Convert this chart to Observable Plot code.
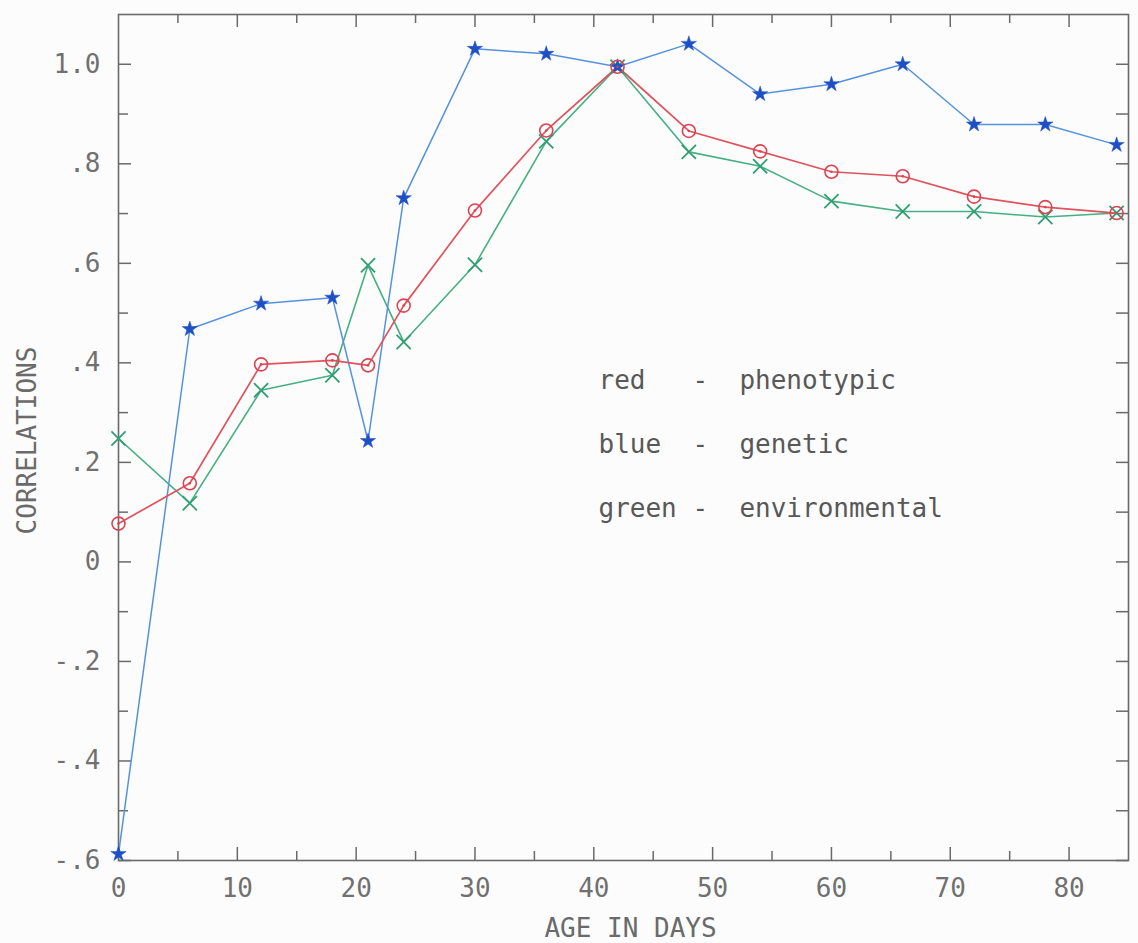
<!DOCTYPE html>
<html>
<head>
<meta charset="utf-8">
<script src="https://cdn.jsdelivr.net/npm/d3@7"></script>
<script src="https://cdn.jsdelivr.net/npm/@observablehq/plot@0.6"></script>
<style>
  html, body { margin: 0; padding: 0; background: #fcfcfc; }
  svg text { white-space: pre; }
</style>
</head>
<body>
<div id="chart"></div>
<script>
// ---- data ----
const ages = [0, 6, 12, 18, 21, 24, 30, 36, 42, 48, 54, 60, 66, 72, 78, 84];
const phenotypic    = [0.077, 0.158, 0.397, 0.405, 0.395, 0.515, 0.706, 0.867, 0.995, 0.866, 0.825, 0.784, 0.775, 0.734, 0.713, 0.701];
const genetic       = [-0.587, 0.468, 0.519, 0.531, 0.243, 0.731, 1.031, 1.021, 0.995, 1.041, 0.940, 0.960, 1.000, 0.879, 0.879, 0.838];
const environmental = [0.248, 0.118, 0.345, 0.375, 0.596, 0.442, 0.597, 0.845, 0.995, 0.824, 0.795, 0.725, 0.704, 0.704, 0.693, 0.701];

const legendLines = ["red   -  phenotypic", "blue  -  genetic", "green -  environmental"];

const xTickValues = [0, 10, 20, 30, 40, 50, 60, 70, 80];
const xMinorTicks = [5, 15, 25, 35, 45, 55, 65, 75];
const yTickValues = [-0.6, -0.4, -0.2, 0, 0.2, 0.4, 0.6, 0.8, 1.0];
const yTickLabels = ["-.6", "-.4", "-.2", "0", ".2", ".4", ".6", ".8", "1.0"];
const yMinorTicks = [-0.5, -0.3, -0.1, 0.1, 0.3, 0.5, 0.7, 0.9];

const xLabel = "AGE IN DAYS";
const yLabel = "CORRELATIONS";

// ---- styles ----
const RED = "#dc4250", RED_LINE = "#e0525c";
const BLUE = "#1e4fc4", BLUE_LINE = "#5592de";
const GREEN = "#2f9f72", GREEN_LINE = "#45b083";
const AXIS = "#6a6a6a";
const FONT = "'DejaVu Sans Mono', 'Liberation Mono', monospace";

const W = 1138, H = 943;
const mL = 118, mR = 10, mT = 14, mB = 83;
const plotW = W - mL - mR, plotH = H - mT - mB;

const rows = (vals) => ages.map((a, i) => ({age: a, value: vals[i]}));
const red = rows(phenotypic), blue = rows(genetic), green = rows(environmental);

const yLabelMap = new Map(yTickValues.map((v, i) => [v, yTickLabels[i]]));

const chart = Plot.plot({
  width: W, height: H,
  marginLeft: mL, marginRight: mR, marginTop: mT, marginBottom: mB,
  x: {domain: [0, 85]},
  y: {domain: [-0.6, 1.1]},
  style: {background: "transparent", fontFamily: FONT, color: AXIS},
  marks: [
    // ticks, all pointing inward
    Plot.tickX(xTickValues.slice(1), {x: d => d, insetTop: plotH - 13, stroke: AXIS, strokeWidth: 1.5}),
    Plot.tickX(xMinorTicks, {x: d => d, insetTop: plotH - 9, stroke: AXIS, strokeWidth: 1.5}),
    Plot.tickX(xTickValues.slice(1), {x: d => d, insetBottom: plotH - 13, stroke: AXIS, strokeWidth: 1.5}),
    Plot.tickX(xMinorTicks, {x: d => d, insetBottom: plotH - 9, stroke: AXIS, strokeWidth: 1.5}),
    Plot.tickY(yTickValues, {y: d => d, insetRight: plotW - 13, stroke: AXIS, strokeWidth: 1.5}),
    Plot.tickY(yMinorTicks, {y: d => d, insetRight: plotW - 10, stroke: AXIS, strokeWidth: 1.5}),
    Plot.tickY(yTickValues, {y: d => d, insetLeft: plotW - 12, stroke: AXIS, strokeWidth: 1.5}),
    Plot.tickY(yMinorTicks, {y: d => d, insetLeft: plotW - 12, stroke: AXIS, strokeWidth: 1.5}),
    Plot.frame({stroke: AXIS, strokeWidth: 1.6}),

    // axes labels
    Plot.axisX(xTickValues, {tickSize: 0, tickPadding: 18, fontSize: 26, tickFormat: d => String(d), label: null, fill: "#707070"}),
    Plot.axisY(yTickValues, {tickSize: 0, tickPadding: 18, fontSize: 26, tickFormat: d => yLabelMap.get(d), label: null, fill: "#707070"}),
    Plot.text([xLabel], {frameAnchor: "bottom", dx: 7, dy: 68, fontSize: 26, fill: "#6a6a6a", lineAnchor: "middle"}),
    Plot.text([yLabel], {frameAnchor: "left", textAnchor: "middle", dx: -91, dy: 3, rotate: -90, fontSize: 26, fill: "#6a6a6a", lineAnchor: "middle"}),

    // legend
    ...legendLines.map((t, i) => Plot.text([t], {
      frameAnchor: "top-left", textAnchor: "start", lineAnchor: "middle",
      dx: 480, dy: 366 + i * 64, fontSize: 26, fill: "#585858"
    })),

    // series: lines
    Plot.line(green, {x: "age", y: "value", stroke: GREEN_LINE, strokeWidth: 1.6}),
    Plot.line(blue, {x: "age", y: "value", stroke: BLUE_LINE, strokeWidth: 1.5}),
    Plot.line(red, {x: "age", y: "value", stroke: RED_LINE, strokeWidth: 1.7}),

    // markers
    Plot.dot(green, {x: "age", y: "value", symbol: "times", r: 6.5, stroke: GREEN, strokeWidth: 1.8}),
    Plot.dot(blue, {x: "age", y: "value", symbol: "star", r: 4.8, fill: BLUE, stroke: BLUE, strokeWidth: 0.5}),
    Plot.dot(red, {x: "age", y: "value", r: 6.5, fill: "none", stroke: RED, strokeWidth: 1.6}),
    Plot.dot(red, {x: "age", y: "value", r: 1.3, fill: RED})
  ]
});

document.getElementById("chart").appendChild(chart);
</script>
</body>
</html>
